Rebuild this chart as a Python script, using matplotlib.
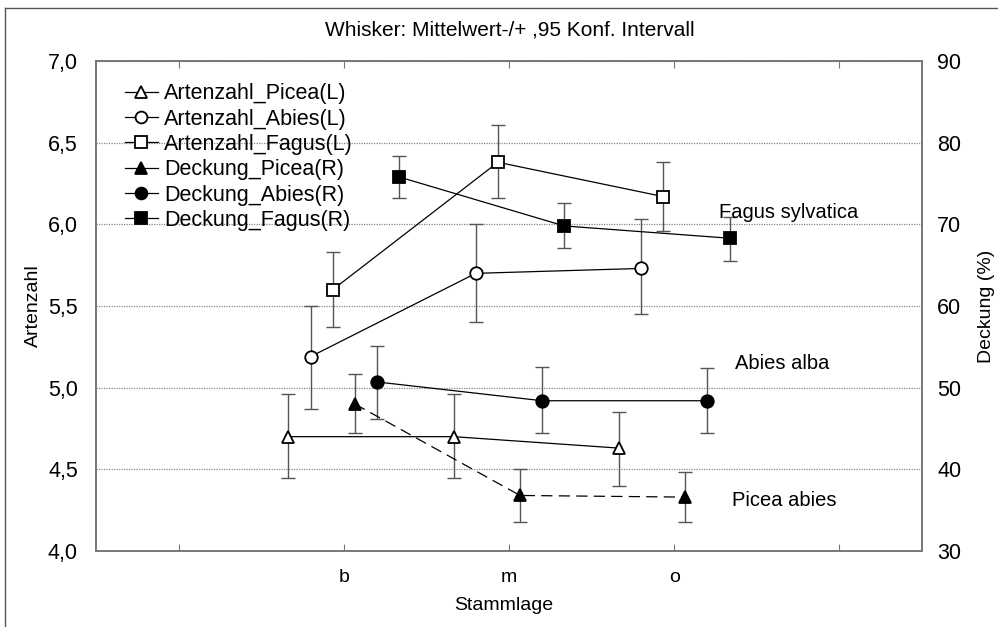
import matplotlib.pyplot as plt
import numpy as np
from matplotlib.lines import Line2D

plt.rcParams['font.family'] = ['Liberation Sans', 'DejaVu Sans']

categories = ['b', 'm', 'o']

# Artenzahl (left axis): mean, lower, upper
art_picea = [4.70, 4.70, 4.63]
art_picea_lo = [4.45, 4.45, 4.40]
art_picea_hi = [4.96, 4.96, 4.85]

art_abies = [5.19, 5.70, 5.73]
art_abies_lo = [4.87, 5.40, 5.45]
art_abies_hi = [5.50, 6.00, 6.03]

art_fagus = [5.60, 6.38, 6.17]
art_fagus_lo = [5.37, 6.16, 5.96]
art_fagus_hi = [5.83, 6.61, 6.38]

# Deckung (right axis, %)
deck_picea = [48.0, 36.8, 36.6]
deck_picea_lo = [44.5, 33.6, 33.6]
deck_picea_hi = [51.7, 40.1, 39.7]

deck_abies = [50.7, 48.4, 48.4]
deck_abies_lo = [46.2, 44.4, 44.5]
deck_abies_hi = [55.1, 52.5, 52.4]

deck_fagus = [75.8, 69.8, 68.3]
deck_fagus_lo = [73.2, 67.1, 65.5]
deck_fagus_hi = [78.4, 72.6, 70.9]

series = [
    ('Artenzahl_Picea(L)', 'L', art_picea, art_picea_lo, art_picea_hi, '^', 'white', '-'),
    ('Artenzahl_Abies(L)', 'L', art_abies, art_abies_lo, art_abies_hi, 'o', 'white', '-'),
    ('Artenzahl_Fagus(L)', 'L', art_fagus, art_fagus_lo, art_fagus_hi, 's', 'white', '-'),
    ('Deckung_Picea(R)', 'R', deck_picea, deck_picea_lo, deck_picea_hi, '^', 'black', (0, (9, 5))),
    ('Deckung_Abies(R)', 'R', deck_abies, deck_abies_lo, deck_abies_hi, 'o', 'black', '-'),
    ('Deckung_Fagus(R)', 'R', deck_fagus, deck_fagus_lo, deck_fagus_hi, 's', 'black', '-'),
]

fig = plt.figure(figsize=(9.98, 6.27), dpi=100)
ax = fig.add_axes([96 / 998, 1 - 551 / 627, (922 - 96) / 998, (551 - 61) / 627])
ax2 = ax.twinx()

x = np.arange(1, len(categories) + 1)
step = 0.134
handles = []
for i, (name, side, y, lo, hi, mk, fc, ls) in enumerate(series):
    target = ax if side == 'L' else ax2
    xs = x + (i - 2.5) * step
    y = np.array(y)
    err = [y - np.array(lo), np.array(hi) - y]
    target.errorbar(xs, y, yerr=err, fmt='none', ecolor='#555555',
                    elinewidth=1.0, capsize=5, capthick=1.0, zorder=2)
    target.plot(xs, y, color='black', lw=0.9, linestyle=ls, marker=mk,
                markersize=8.5 if mk != 'o' else 9, markerfacecolor=fc,
                markeredgecolor='black', markeredgewidth=1.3, zorder=3)
    handles.append(Line2D([], [], color='black', lw=0.9, marker=mk,
                          markersize=8.5, markerfacecolor=fc,
                          markeredgecolor='black', markeredgewidth=1.3))

ax.set_xlim(-0.5, 4.5)
ax.set_ylim(4.0, 7.0)
ax2.set_ylim(30, 90)

ax.set_xticks([0, 1, 2, 3, 4])
ax.set_xticklabels([''] + categories + [''], fontsize=14)
ax.tick_params(axis='x', direction='in', length=5, color='#777777',
               top=True, pad=13)
yt = np.arange(4.0, 7.01, 0.5)
ax.set_yticks(yt)
ax.set_yticklabels([f'{v:.1f}'.replace('.', ',') for v in yt], fontsize=15.5)
ax.tick_params(axis='y', length=0, pad=13)
ax2.set_yticks(np.arange(30, 91, 10))
ax2.tick_params(axis='y', length=0, pad=11, labelsize=15.5)

for a in (ax, ax2):
    for s in a.spines.values():
        s.set_color('#777777')
        s.set_linewidth(1.2)

ax.yaxis.grid(True, linestyle=(0, (1, 1)), color='#888888', lw=0.9)
ax.set_axisbelow(True)

ax.set_ylabel('Artenzahl', fontsize=14, labelpad=4)
ax2.set_ylabel('Deckung (%)', fontsize=14, labelpad=12)
fig.text(0.505, 0.035, 'Stammlage', ha='center', va='center', fontsize=14)
fig.text(0.511, 0.952, 'Whisker: Mittelwert-/+ ,95 Konf. Intervall',
         ha='center', va='center', fontsize=15)

ax2.text(3.27, 6.0 + 0.07, 'Fagus sylvatica', transform=ax.transData,
         fontsize=14.5, va='center', zorder=5)
ax2.text(3.37, 5.15, 'Abies alba', transform=ax.transData,
         fontsize=14.5, va='center', zorder=5)
ax2.text(3.35, 4.31, 'Picea abies', transform=ax.transData,
         fontsize=14.5, va='center', zorder=5)

ax2.legend(handles, [s[0] for s in series], loc='upper left',
           bbox_to_anchor=(0.025, 0.972), frameon=False, fontsize=15.5,
           handlelength=1.5, handletextpad=0.3, labelspacing=0.2,
           borderaxespad=0)

fig.add_artist(Line2D([5 / 998, 5 / 998], [0, 1 - 8 / 627],
                      transform=fig.transFigure, color='#555555', lw=1))
fig.add_artist(Line2D([5 / 998, 1], [1 - 8 / 627, 1 - 8 / 627],
                      transform=fig.transFigure, color='#555555', lw=1))

fig.savefig('out.png', dpi=100)
